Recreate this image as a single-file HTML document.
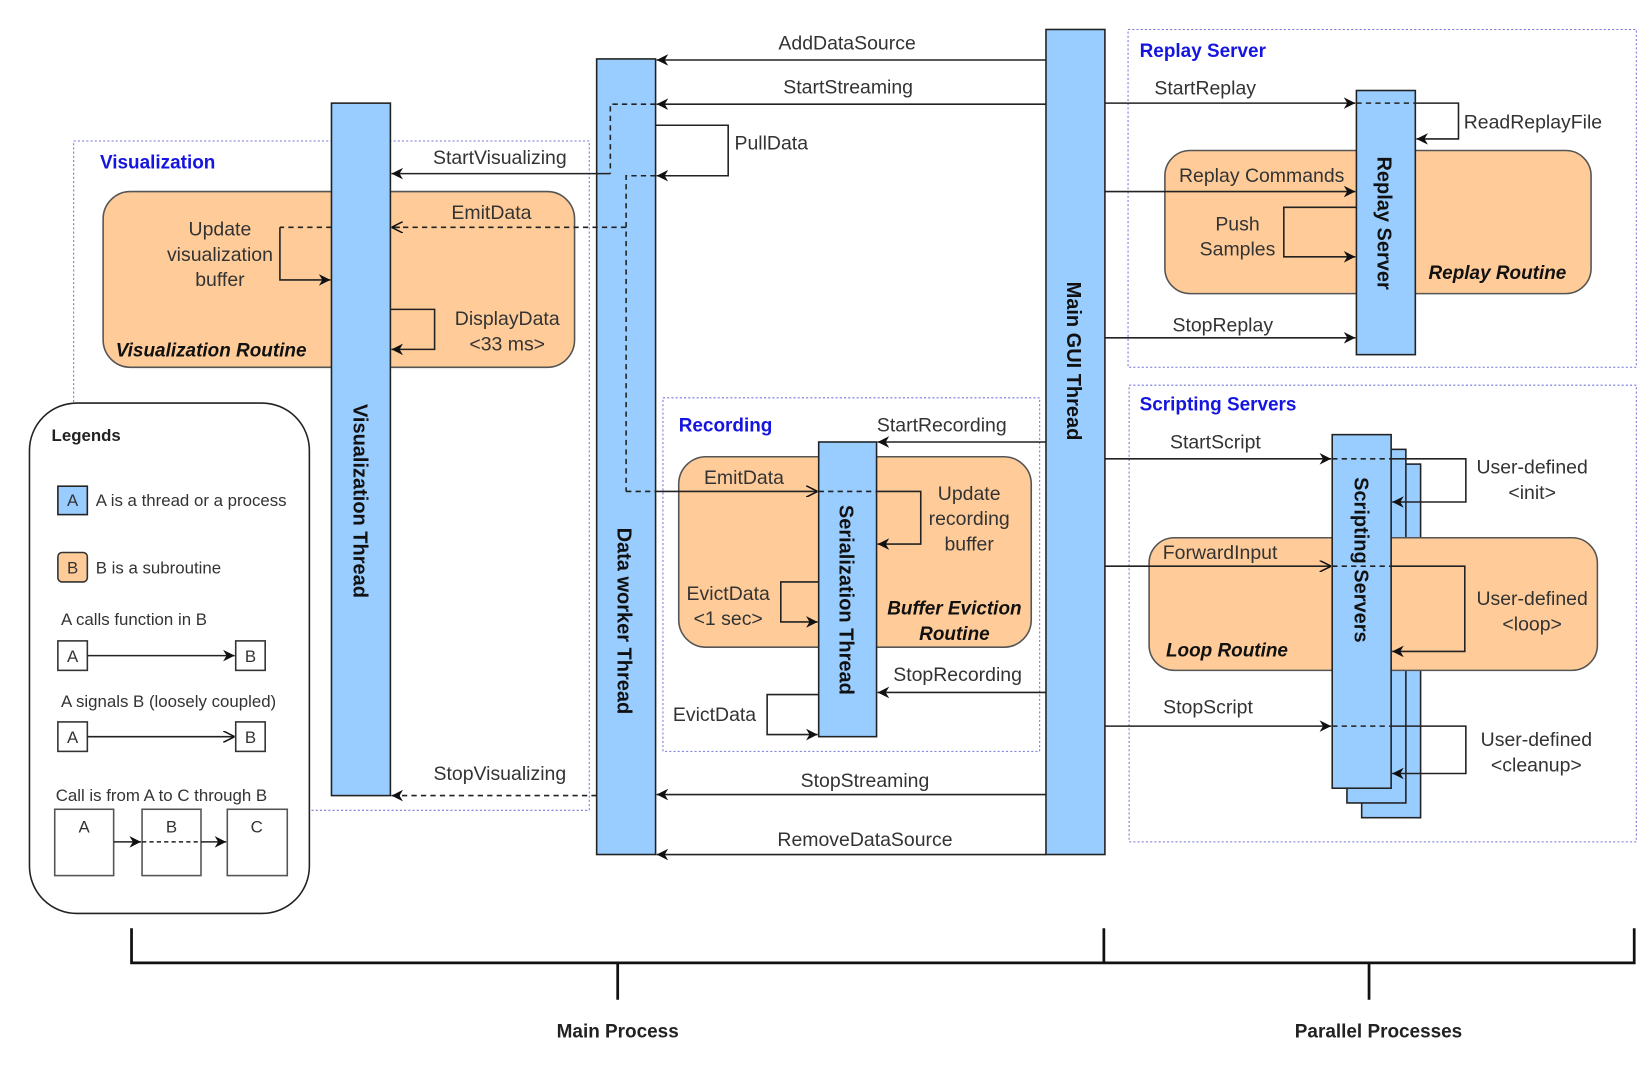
<!DOCTYPE html>
<html><head><meta charset="utf-8"><style>
html,body{margin:0;padding:0;background:#fff;}
svg{display:block;}
text{font-family:"Liberation Sans",Arial,sans-serif;fill:#333;}
.l{font-size:18.5px;}
.c{text-anchor:middle;}
.b{font-weight:bold;}
.bl{fill:#1515e0;font-weight:bold;font-size:18px;}
.bi{font-weight:bold;font-style:italic;font-size:18px;fill:#111;}
.vt{font-weight:bold;font-size:19px;fill:#111;text-anchor:middle;}
.lg{font-size:16px;}
.thr{fill:#99ccff;stroke:#222;stroke-width:1.5;}
.rt{fill:#ffcc99;stroke:#555;stroke-width:1.5;}
.dot{fill:none;stroke:#7777dd;stroke-width:1;stroke-dasharray:2,2;}
.s{fill:none;stroke:#222;stroke-width:1.5;}
.d{fill:none;stroke:#222;stroke-width:1.5;stroke-dasharray:5,4;}
</style></head><body>
<svg width="1650" height="1065" viewBox="0 0 1568 1012" preserveAspectRatio="none" xmlns="http://www.w3.org/2000/svg">
<defs>
<marker id="f" viewBox="0 0 10 10" refX="10" refY="5" markerWidth="11" markerHeight="11" orient="auto" markerUnits="userSpaceOnUse"><path d="M0,0 L10,5 L0,10 L3,5 z" fill="#111"/></marker>
<marker id="o" viewBox="0 0 10 10" refX="10" refY="5" markerWidth="11" markerHeight="11" orient="auto" markerUnits="userSpaceOnUse"><path d="M0,0 L10,5 L0,10" fill="none" stroke="#111" stroke-width="1.3"/></marker>
</defs>

<!-- Visualization group -->
<rect class="dot" x="70" y="134" width="490" height="636"/>
<rect class="rt" x="98" y="182" width="448" height="167" rx="26"/>
<text class="bl" x="95" y="160">Visualization</text>
<rect class="thr" x="315" y="98" width="56" height="658"/>
<text class="vt" transform="translate(336,476) rotate(90)">Visualization Thread</text>

<!-- Recording group -->
<rect class="dot" x="630" y="378" width="358" height="336"/>
<rect class="rt" x="645" y="434" width="335" height="181" rx="26"/>
<text class="bl" x="645" y="410">Recording</text>
<rect class="thr" x="778" y="420" width="55" height="280"/>
<text class="vt" transform="translate(798,570) rotate(90)">Serialization Thread</text>

<!-- Replay -->
<rect class="dot" x="1072" y="28" width="483" height="321"/>
<rect class="rt" x="1107" y="143" width="405" height="136" rx="24"/>
<text class="bl" x="1083" y="54">Replay Server</text>
<rect class="thr" x="1289" y="86" width="56" height="251"/>
<text class="vt" transform="translate(1309,212) rotate(90)">Replay Server</text>

<!-- Scripting -->
<rect class="dot" x="1073" y="366" width="482" height="434"/>
<rect class="thr" x="1294" y="441" width="56" height="336"/>
<rect class="thr" x="1280" y="427" width="56" height="336"/>
<rect class="rt" x="1092" y="511" width="426" height="126" rx="24"/>
<rect class="thr" x="1266" y="413" width="56" height="336"/>
<text class="vt" transform="translate(1287,532) rotate(90)">Scripting Servers</text>
<text class="bl" x="1083" y="390">Scripting Servers</text>

<!-- Main threads -->
<rect class="thr" x="567" y="56" width="56" height="756"/>
<text class="vt" transform="translate(587,590) rotate(90)">Data worker Thread</text>
<rect class="thr" x="994" y="28" width="56" height="784"/>
<text class="vt" transform="translate(1014,343) rotate(90)">Main GUI Thread</text>

<!-- Main GUI -> DW -->
<line class="s" x1="994" y1="57" x2="624" y2="57" marker-end="url(#f)"/>
<text class="l c" x="805" y="47">AddDataSource</text>
<line class="s" x1="994" y1="99" x2="624" y2="99" marker-end="url(#f)"/>
<text class="l c" x="806" y="89">StartStreaming</text>
<path class="s" d="M623,119 H692 V167 H624" marker-end="url(#f)"/>
<text class="l" x="698" y="142">PullData</text>
<line class="s" x1="994" y1="755" x2="624" y2="755" marker-end="url(#f)"/>
<text class="l c" x="822" y="748">StopStreaming</text>
<line class="s" x1="994" y1="812" x2="624" y2="812" marker-end="url(#f)"/>
<text class="l c" x="822" y="804">RemoveDataSource</text>

<!-- DW -> Vis -->
<path class="d" d="M623,99 H580 V165"/>
<line class="s" x1="580" y1="165" x2="372" y2="165" marker-end="url(#f)"/>
<text class="l c" x="475" y="156">StartVisualizing</text>
<path class="d" d="M623,167 H595 V467"/>
<line class="d" x1="595" y1="216" x2="372" y2="216"/>
<line class="s" x1="380" y1="216" x2="372" y2="216" marker-end="url(#o)"/>
<text class="l c" x="467" y="208">EmitData</text>
<line class="d" x1="315" y1="216" x2="266" y2="216"/>
<path class="s" d="M266,216 V266 H314" marker-end="url(#f)"/>
<text class="l c" x="209" y="224">Update</text>
<text class="l c" x="209" y="248">visualization</text>
<text class="l c" x="209" y="272">buffer</text>
<path class="s" d="M371,294 H413 V332 H372" marker-end="url(#f)"/>
<text class="l c" x="482" y="309">DisplayData</text>
<text class="l c" x="482" y="333">&lt;33 ms&gt;</text>
<text class="bi" x="110" y="339">Visualization Routine</text>
<path class="d" d="M567,756 H380"/>
<line class="s" x1="380" y1="756" x2="372" y2="756" marker-end="url(#f)"/>
<text class="l c" x="475" y="741">StopVisualizing</text>

<!-- Recording arrows -->
<path class="d" d="M595,467 H623"/>
<line class="s" x1="623" y1="467" x2="777" y2="467" marker-end="url(#o)"/>
<text class="l c" x="707" y="460">EmitData</text>
<line class="d" x1="778" y1="467" x2="833" y2="467"/>
<path class="s" d="M833,467 H875 V517 H834" marker-end="url(#f)"/>
<text class="l c" x="921" y="475">Update</text>
<text class="l c" x="921" y="499">recording</text>
<text class="l c" x="921" y="523">buffer</text>
<path class="s" d="M778,553 H742 V591 H777" marker-end="url(#f)"/>
<text class="l c" x="692" y="570">EvictData</text>
<text class="l c" x="692" y="594">&lt;1 sec&gt;</text>
<text class="bi c" x="907" y="584">Buffer Eviction</text>
<text class="bi c" x="907" y="608">Routine</text>
<line class="s" x1="994" y1="420" x2="834" y2="420" marker-end="url(#f)"/>
<text class="l c" x="895" y="410">StartRecording</text>
<line class="s" x1="994" y1="658" x2="834" y2="658" marker-end="url(#f)"/>
<text class="l c" x="910" y="647">StopRecording</text>
<path class="s" d="M778,660 H729 V698 H777" marker-end="url(#f)"/>
<text class="l c" x="679" y="685">EvictData</text>

<!-- Replay arrows -->
<line class="s" x1="1050" y1="98" x2="1288" y2="98" marker-end="url(#f)"/>
<text class="l" x="1097" y="90">StartReplay</text>
<line class="d" x1="1289" y1="98" x2="1345" y2="98"/>
<path class="s" d="M1345,98 H1386 V132 H1346" marker-end="url(#f)"/>
<text class="l" x="1391" y="122">ReadReplayFile</text>
<line class="s" x1="1050" y1="182" x2="1288" y2="182" marker-end="url(#f)"/>
<text class="l c" x="1199" y="173">Replay Commands</text>
<path class="s" d="M1289,197 H1220 V244 H1288" marker-end="url(#f)"/>
<text class="l c" x="1176" y="219">Push</text>
<text class="l c" x="1176" y="243">Samples</text>
<text class="bi c" x="1423" y="265">Replay Routine</text>
<line class="s" x1="1050" y1="321" x2="1288" y2="321" marker-end="url(#f)"/>
<text class="l c" x="1162" y="315">StopReplay</text>

<!-- Scripting arrows -->
<line class="s" x1="1050" y1="436" x2="1265" y2="436" marker-end="url(#f)"/>
<text class="l c" x="1155" y="426">StartScript</text>
<line class="d" x1="1266" y1="436" x2="1322" y2="436"/>
<path class="s" d="M1322,436 H1393 V477 H1323" marker-end="url(#f)"/>
<text class="l c" x="1456" y="450">User-defined</text>
<text class="l c" x="1456" y="474">&lt;init&gt;</text>
<line class="s" x1="1050" y1="538" x2="1265" y2="538" marker-end="url(#o)"/>
<text class="l" x="1105" y="531">ForwardInput</text>
<line class="d" x1="1266" y1="538" x2="1322" y2="538"/>
<path class="s" d="M1322,538 H1392 V619 H1323" marker-end="url(#f)"/>
<text class="l c" x="1456" y="575">User-defined</text>
<text class="l c" x="1456" y="599">&lt;loop&gt;</text>
<text class="bi" x="1108" y="624">Loop Routine</text>
<line class="s" x1="1050" y1="690" x2="1265" y2="690" marker-end="url(#f)"/>
<text class="l c" x="1148" y="678">StopScript</text>
<line class="d" x1="1266" y1="690" x2="1322" y2="690"/>
<path class="s" d="M1322,690 H1393 V735 H1323" marker-end="url(#f)"/>
<text class="l c" x="1460" y="709">User-defined</text>
<text class="l c" x="1460" y="733">&lt;cleanup&gt;</text>

<!-- Legend -->
<rect x="28" y="383" width="266" height="485" rx="45" fill="#fff" stroke="#222" stroke-width="1.5"/>
<text class="lg b" x="49" y="419" style="fill:#222">Legends</text>
<rect x="55" y="462" width="28" height="27" fill="#99ccff" stroke="#222" stroke-width="1.5"/>
<text class="lg c" x="69" y="481">A</text>
<text class="lg" x="91" y="481">A is a thread or a process</text>
<rect x="55" y="525" width="28" height="28" rx="4" fill="#ffcc99" stroke="#333" stroke-width="1.5"/>
<text class="lg c" x="69" y="545">B</text>
<text class="lg" x="91" y="545">B is a subroutine</text>
<text class="lg" x="58" y="594">A calls function in B</text>
<rect x="55" y="609" width="28" height="28" fill="#fff" stroke="#333" stroke-width="1.5"/>
<text class="lg c" x="69" y="629">A</text>
<rect x="224" y="609" width="28" height="28" fill="#fff" stroke="#333" stroke-width="1.5"/>
<text class="lg c" x="238" y="629">B</text>
<line class="s" x1="83" y1="623" x2="223" y2="623" marker-end="url(#f)"/>
<text class="lg" x="58" y="672">A signals B (loosely coupled)</text>
<rect x="55" y="686" width="28" height="28" fill="#fff" stroke="#333" stroke-width="1.5"/>
<text class="lg c" x="69" y="706">A</text>
<rect x="224" y="686" width="28" height="28" fill="#fff" stroke="#333" stroke-width="1.5"/>
<text class="lg c" x="238" y="706">B</text>
<line class="s" x1="83" y1="700" x2="223" y2="700" marker-end="url(#o)"/>
<text class="lg" x="53" y="761">Call is from A to C through B</text>
<rect x="52" y="769" width="56" height="63" fill="#fff" stroke="#555" stroke-width="1.5"/>
<rect x="135" y="769" width="56" height="63" fill="#fff" stroke="#555" stroke-width="1.5"/>
<rect x="216" y="769" width="57" height="63" fill="#fff" stroke="#555" stroke-width="1.5"/>
<text class="lg c" x="80" y="791">A</text>
<text class="lg c" x="163" y="791">B</text>
<text class="lg c" x="244" y="791">C</text>
<line class="s" x1="108" y1="800" x2="134" y2="800" marker-end="url(#f)"/>
<line class="d" x1="135" y1="800" x2="191" y2="800" style="stroke-dasharray:4,3"/>
<line class="s" x1="191" y1="800" x2="215" y2="800" marker-end="url(#f)"/>

<!-- Bottom bracket -->
<path d="M125,882 V915 H1553 V882 M1049,882 V915 M587,915 V950 M1301,915 V950" fill="none" stroke="#111" stroke-width="2.6"/>
<text class="b c" x="587" y="986" style="font-size:18px;fill:#222">Main Process</text>
<text class="b c" x="1310" y="986" style="font-size:18px;fill:#222">Parallel Processes</text>
</svg>
</body></html>
